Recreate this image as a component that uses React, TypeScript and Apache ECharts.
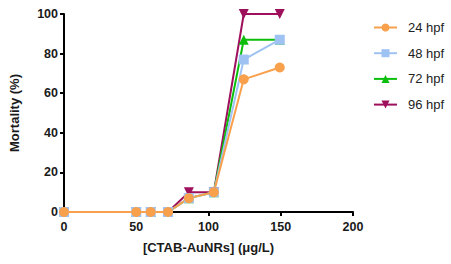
import React, { useEffect, useRef } from "react";
import * as echarts from "echarts";

// Concentrations (µg/L)
const concentrations = [0, 50, 60, 72, 86.4, 103.7, 124.4, 149.3];

// Mortality (%) at each time point
const mortality24 = [0, 0, 0, 0, 7, 10, 67, 73];
const mortality48 = [0, 0, 0, 0, 7, 10, 77, 87];
const mortality72 = [0, 0, 0, 0, 7, 10, 87, 87];
const mortality96 = [0, 0, 0, 0, 10, 10, 100, 100];

const legendNames = ["24 hpf", "48 hpf", "72 hpf", "96 hpf"];

const FONT = "'Liberation Sans', Arial, Helvetica, sans-serif";

const pairs = (ys: number[]) => concentrations.map((x, i) => [x, ys[i]]);

export default function App() {
  const ref = useRef<HTMLDivElement>(null);

  useEffect(() => {
    if (!ref.current) return;
    const chart = echarts.init(ref.current, undefined, { renderer: "svg" });

    const mk = (
      name: string,
      ys: number[],
      color: string,
      symbol: string,
      rotate = 0
    ) => ({
      name,
      type: "line",
      data: pairs(ys),
      symbol,
      symbolSize: 10,
      symbolRotate: rotate,
      showAllSymbol: true,
      lineStyle: { color, width: 2 },
      itemStyle: { color },
      emphasis: { disabled: true },
    });

    chart.setOption({
      animation: false,
      backgroundColor: "#ffffff",
      grid: { left: 54, right: 98, top: 14, bottom: 52, containLabel: false },
      legend: {
        data: legendNames,
        orient: "vertical",
        left: 373,
        top: 21,
        padding: 0,
        itemWidth: 23,
        itemHeight: 10,
        itemGap: 12.7,
        textStyle: {
          fontFamily: FONT,
          fontSize: 13,
          color: "#222",
          padding: [0, 0, 0, 6],
        },
      },
      xAxis: {
        type: "value",
        min: 0,
        max: 200,
        interval: 50,
        name: "[CTAB-AuNRs] (μg/L)",
        nameLocation: "middle",
        nameGap: 29,
        nameTextStyle: {
          fontFamily: FONT,
          fontWeight: "bold",
          fontSize: 13,
          color: "#1a1a1a",
        },
        axisLine: { show: true, lineStyle: { color: "#000", width: 2 } },
        axisTick: { show: true, length: 4, lineStyle: { color: "#000", width: 2 } },
        axisLabel: {
          margin: 8,
          fontFamily: FONT,
          fontWeight: "bold",
          fontSize: 12.5,
          color: "#1a1a1a",
        },
        splitLine: { show: false },
      },
      yAxis: {
        type: "value",
        min: 0,
        max: 100,
        interval: 20,
        name: "Mortality (%)",
        nameLocation: "middle",
        nameGap: 43,
        nameTextStyle: {
          fontFamily: FONT,
          fontWeight: "bold",
          fontSize: 13,
          color: "#1a1a1a",
        },
        axisLine: { show: true, lineStyle: { color: "#000", width: 2 } },
        axisTick: { show: true, length: 4, lineStyle: { color: "#000", width: 2 } },
        axisLabel: {
          margin: 6,
          fontFamily: FONT,
          fontWeight: "bold",
          fontSize: 12.5,
          color: "#1a1a1a",
        },
        splitLine: { show: false },
      },
      series: [
        mk("96 hpf", mortality96, "#9E0F5C", "triangle", 180),
        mk("72 hpf", mortality72, "#0CBE0C", "triangle"),
        mk("48 hpf", mortality48, "#9EC3F3", "rect"),
        mk("24 hpf", mortality24, "#F9A04C", "circle"),
      ],
    });

    return () => chart.dispose();
  }, []);

  return <div ref={ref} style={{ width: 451, height: 264, position: "absolute", left: 0, top: 0 }} />;
}
